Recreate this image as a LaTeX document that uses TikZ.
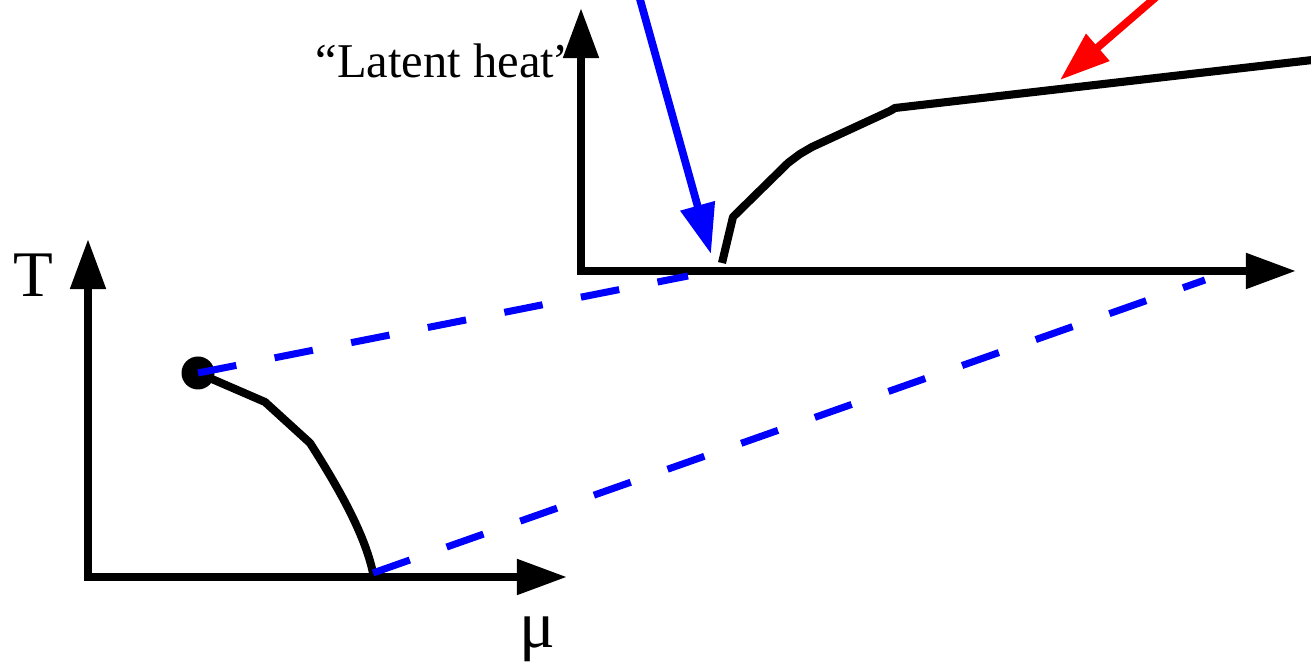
\documentclass[tikz,border=0pt]{standalone}
\usepackage{fontspec}
\setmainfont{Liberation Serif}
\usetikzlibrary{arrows.meta}
\tikzset{
  axis/.style={line width=2.3pt, {Triangle[length=0.5cm,width=0.34cm]}-{Triangle[length=0.5cm,width=0.34cm]}},
  curveline/.style={line width=2.3pt, line join=round},
  ptr/.style={line width=2.2pt, -{Triangle[length=0.5cm,width=0.34cm]}},
  dashline/.style={blue, line width=2pt, dash pattern=on 11.1pt off 11.1pt},
  lbl/.style={inner sep=0pt, anchor=base}
}
\begin{document}
\begin{tikzpicture}[x=0.01cm, y=-0.01cm]
\clip (0,0) rectangle (1311,662);
\useasboundingbox (0,0) rectangle (1311,662);
% upper axes
\coordinate (uY) at (581,8);
\coordinate (uX) at (1296,271);
\coordinate (uO) at (581,271);
\draw[axis] (uY) |- (uX);
% lower axes
\coordinate (lY) at (88,239);
\coordinate (lX) at (567,577);
\coordinate (lO) at (88,577);
\draw[axis] (lY) |- (lX);
% labels
\node[lbl, anchor=base west, font=\fontsize{13.8}{15}\selectfont] (lh) at (315,78) {“Latent heat”};
\node[lbl, font=\fontsize{18.5}{20}\selectfont] (T) at (33,297) {T};
\node[lbl, font=\fontsize{19}{20}\selectfont] (mu) at (537,648) {μ};
% upper curve
\coordinate (c0) at (722,263);
\coordinate (cEnd) at (1330,58);
\draw[curveline] (c0) -- (733,217) -- (788,163) -- (800,154) -- (812,147) -- (890,111) -- (895,108) -- (cEnd);
% lower curve
\coordinate (cp) at (198,373);
\coordinate (ce) at (373,573);
\draw[curveline] (cp) -- (265,402) -- (310,443) .. controls (340,490) and (365,535) .. (ce);
\fill (cp) circle (16.5);
% dashed blue lines
\coordinate (d1) at (688,276);
\coordinate (d2) at (1205,280);
\draw[dashline] (cp) -- (d1);
\draw[dashline] (ce) -- (d2);
% pointer arrows
\coordinate (bs) at (636,-15);
\coordinate (bt) at (711,254);
\draw[ptr, blue] (bs) -- (bt);
\coordinate (rs) at (1170,-15);
\coordinate (rt) at (1060,80);
\draw[ptr, red] (rs) -- (rt);
\end{tikzpicture}
\end{document}
